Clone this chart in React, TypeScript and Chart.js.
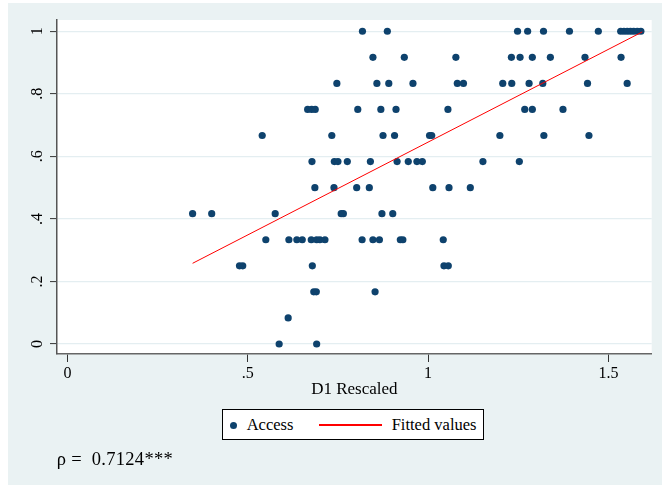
import React, { useEffect, useRef } from "react";
import { Chart, registerables } from "chart.js";

Chart.register(...registerables);

// Access levels (y) and the D1 Rescaled values (x) of the points on each level
const accessLevels = [1, 0.9167, 0.8333, 0.75, 0.6667, 0.5833, 0.5, 0.4167, 0.3333, 0.25, 0.1667, 0.0833, 0];
const d1AtLevel100 = [0.818, 0.887, 1.248, 1.276, 1.32, 1.392, 1.472, 1.534, 1.543, 1.552, 1.561, 1.57, 1.58, 1.59];
const d1AtLevel092 = [0.847, 0.934, 1.077, 1.231, 1.255, 1.289, 1.339, 1.435, 1.535];
const d1AtLevel083 = [0.747, 0.858, 0.891, 0.958, 1.081, 1.098, 1.207, 1.232, 1.28, 1.318, 1.442, 1.552];
const d1AtLevel075 = [0.666, 0.677, 0.687, 0.805, 0.869, 0.911, 1.055, 1.268, 1.289, 1.374];
const d1AtLevel067 = [0.54, 0.733, 0.875, 0.907, 1.004, 1.01, 1.199, 1.321, 1.446];
const d1AtLevel058 = [0.678, 0.74, 0.75, 0.776, 0.84, 0.914, 0.945, 0.969, 0.984, 1.152, 1.253];
const d1AtLevel050 = [0.686, 0.739, 0.802, 0.837, 1.013, 1.058, 1.117];
const d1AtLevel042 = [0.347, 0.4, 0.576, 0.759, 0.765, 0.872, 0.902];
const d1AtLevel033 = [0.55, 0.614, 0.636, 0.651, 0.676, 0.691, 0.7, 0.714, 0.817, 0.847, 0.865, 0.923, 0.93, 1.042];
const d1AtLevel025 = [0.477, 0.486, 0.679, 1.044, 1.056];
const d1AtLevel017 = [0.683, 0.69, 0.853];
const d1AtLevel008 = [0.612];
const d1AtLevel000 = [0.587, 0.691];
const d1ByLevel = [
  d1AtLevel100, d1AtLevel092, d1AtLevel083, d1AtLevel075, d1AtLevel067, d1AtLevel058, d1AtLevel050,
  d1AtLevel042, d1AtLevel033, d1AtLevel025, d1AtLevel017, d1AtLevel008, d1AtLevel000,
];

// Fitted values line (end points)
const fittedX = [0.347, 1.594];
const fittedY = [0.258, 0.998];

// Axis ticks
const xTickValues = [0, 0.5, 1, 1.5];
const xTickLabels = ["0", ".5", "1", "1.5"];
const yTickValues = [0, 0.2, 0.4, 0.6, 0.8, 1];
const yTickLabels = ["0", ".2", ".4", ".6", ".8", "1"];

const xTitle = "D1 Rescaled";
const seriesNames = ["Access", "Fitted values"];
const rhoText = "\u03C1 =  0.7124***";

const NAVY = "#0e426d";
const BG = "#eaf2f3";
const SERIF = "'Liberation Serif', 'Times New Roman', serif";

export default function App() {
  const ref = useRef<HTMLCanvasElement | null>(null);

  useEffect(() => {
    if (!ref.current) return;
    const points: { x: number; y: number }[] = [];
    d1ByLevel.forEach((xs, i) => xs.forEach((x) => points.push({ x, y: accessLevels[i] })));
    const fitted = fittedX.map((x, i) => ({ x, y: fittedY[i] }));

    const plotBg = {
      id: "plotBg",
      beforeDraw(chart: any) {
        const { ctx, chartArea: a } = chart;
        ctx.save();
        ctx.fillStyle = "#ffffff";
        ctx.fillRect(a.left, a.top, a.right - a.left, a.bottom - a.top);
        ctx.restore();
      },
    };

    const chart = new Chart(ref.current, {
      type: "scatter",
      data: {
        datasets: [
          {
            label: seriesNames[1],
            data: fitted,
            showLine: true,
            borderColor: "#ff0000",
            borderWidth: 1,
            pointRadius: 0,
            pointHoverRadius: 0,
            fill: false,
            order: 1,
          } as any,
          {
            label: seriesNames[0],
            data: points,
            backgroundColor: NAVY,
            borderWidth: 0,
            pointRadius: 3.6,
            pointHoverRadius: 3.6,
            order: 2,
          },
        ],
      },
      options: {
        responsive: false,
        animation: false,
        devicePixelRatio: 1,
        events: [],
        layout: { padding: { left: 0, top: 17, right: 10.3, bottom: 84.8 } },
        plugins: { legend: { display: false }, tooltip: { enabled: false } },
        scales: {
          x: {
            type: "linear",
            min: -0.029,
            max: 1.62,
            afterBuildTicks: (s: any) => {
              s.ticks = xTickValues.map((v) => ({ value: v }));
            },
            afterFit: (s: any) => {
              s.height = 46.2;
            },
            ticks: {
              callback: (v: any) => xTickLabels[xTickValues.indexOf(Number(v))],
              font: { family: SERIF, size: 16 },
              color: "#000",
              padding: 2,
              maxRotation: 0,
              autoSkip: false,
            },
            grid: { drawOnChartArea: false, drawTicks: true, tickLength: 8, tickColor: "#333", tickWidth: 1 },
            border: { display: true, color: "#666", width: 1.5 },
            title: {
              display: true,
              text: xTitle,
              font: { family: SERIF, size: 17, lineHeight: 1.2 },
              color: "#000",
              padding: 0,
            },
          },
          y: {
            type: "linear",
            min: -0.032,
            max: 1.036,
            afterBuildTicks: (s: any) => {
              s.ticks = yTickValues.map((v) => ({ value: v }));
            },
            afterFit: (s: any) => {
              s.width = 49;
            },
            ticks: {
              callback: (v: any) => yTickLabels[yTickValues.indexOf(Number(v))],
              font: { family: SERIF, size: 16 },
              color: "#000",
              padding: 6.5,
              minRotation: 90,
              maxRotation: 90,
              crossAlign: "center",
              autoSkip: false,
            } as any,
            grid: { color: "#e4eef1", lineWidth: 1.2, drawTicks: true, tickLength: 7, tickColor: "#333", tickWidth: 1 },
            border: { display: true, color: "#555", width: 1.5 },
          },
        },
      },
      plugins: [plotBg],
    });
    return () => chart.destroy();
  }, []);

  return (
    <div
      style={{
        position: "absolute",
        left: 8,
        top: 3,
        width: 654,
        height: 482,
        background: BG,
        fontFamily: SERIF,
        color: "#000",
      }}
    >
      <canvas
        ref={ref}
        width={654}
        height={482}
        style={{ position: "absolute", left: 0, top: 0, width: 654, height: 482 }}
      />
      <div
        style={{
          position: "absolute",
          left: 213.7,
          top: 406.3,
          width: 262.6,
          height: 30.7,
          boxSizing: "border-box",
          border: "1px solid #000",
          background: "#fff",
          fontSize: 16.5,
        }}
      >
        <span
          style={{
            position: "absolute",
            left: 7,
            top: 11.5,
            width: 7,
            height: 7,
            borderRadius: "50%",
            background: NAVY,
          }}
        />
        <span style={{ position: "absolute", left: 24, top: 0, height: "100%", display: "flex", alignItems: "center" }}>
          {seriesNames[0]}
        </span>
        <span
          style={{ position: "absolute", left: 96.5, top: 14, width: 63, height: 1.5, background: "#ff0000" }}
        />
        <span style={{ position: "absolute", left: 169, top: 0, height: "100%", display: "flex", alignItems: "center", whiteSpace: "nowrap" }}>
          {seriesNames[1]}
        </span>
      </div>
      <div
        style={{
          position: "absolute",
          left: 48.7,
          top: 445,
          fontSize: 18.5,
          letterSpacing: 0.3,
          whiteSpace: "pre",
          lineHeight: "22px",
        }}
      >
        {rhoText}
      </div>
    </div>
  );
}
